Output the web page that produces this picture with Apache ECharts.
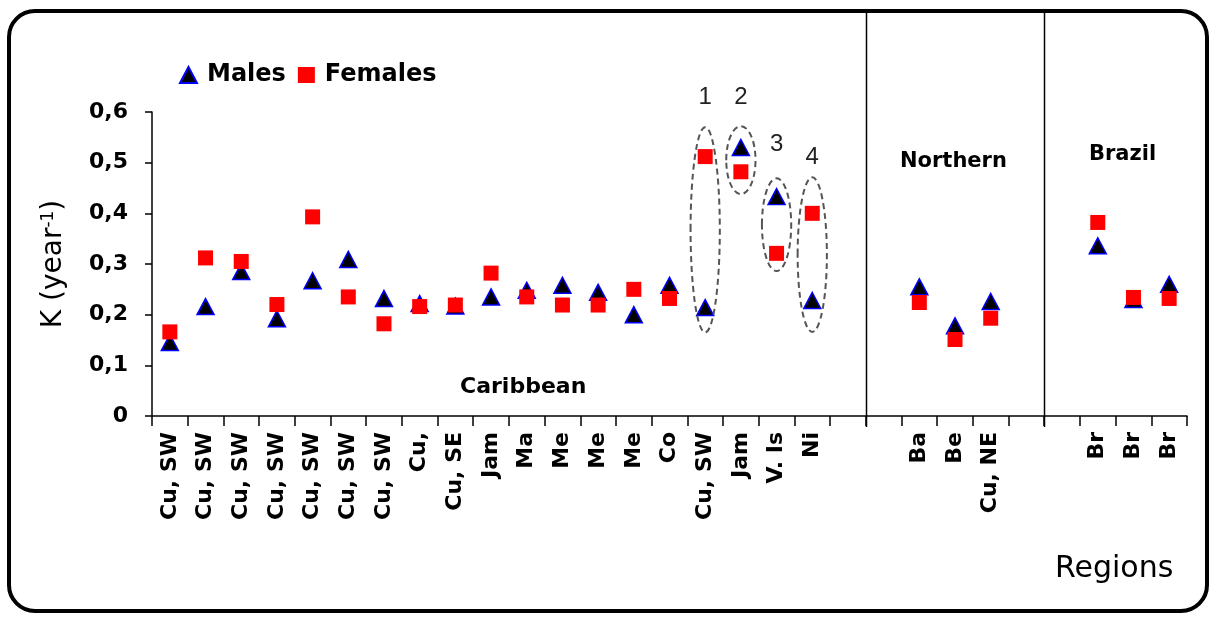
<!DOCTYPE html>
<html>
<head>
<meta charset="utf-8">
<script src="https://cdn.jsdelivr.net/npm/echarts@6/dist/echarts.min.js"></script>
<style>
html,body{margin:0;padding:0;background:#fff;}
#chart{width:1213px;height:617px;}
</style>
</head>
<body>
<div id="chart"></div>
<script>
// ---- data ----
var categories = ['Cu, SW','Cu, SW','Cu, SW','Cu, SW','Cu, SW','Cu, SW','Cu, SW','Cu,','Cu, SE','Jam','Ma','Me','Me','Me','Co','Cu, SW','Jam','V. Is','Ni','','','Ba','Be','Cu, NE','','','Br','Br','Br'];
var males   = [0.145,0.216,0.285,0.192,0.267,0.309,0.232,0.222,0.217,0.235,0.248,0.258,0.244,0.200,0.258,0.214,0.530,0.433,0.228,null,null,0.255,0.178,0.226,null,null,0.336,0.230,0.260];
var females = [0.166,0.312,0.305,0.220,0.393,0.235,0.182,0.216,0.219,0.282,0.235,0.219,0.219,0.250,0.232,0.512,0.482,0.321,0.400,null,null,0.224,0.151,0.193,null,null,0.382,0.234,0.232];
var yTicks = [0, 0.1, 0.2, 0.3, 0.4, 0.5, 0.6];
// highlighted groups (dashed ellipses)
var groupCats   = [15, 16, 17, 18];
var groupTop    = [0.570, 0.572, 0.469, 0.471];
var groupBottom = [0.165, 0.438, 0.286, 0.166];
var groupLabels = ['1', '2', '3', '4'];
var groupLabelY = [0.628, 0.628, 0.536, 0.511];
// region separators (after category index)
var separatorsAfter = [19, 24];

var chart = echarts.init(document.getElementById('chart'), null, {renderer: 'canvas'});

var ellipseData = groupCats.map(function (c, i) {
  return [c, groupTop[i], groupBottom[i], groupLabelY[i], i];
});
var sepData = separatorsAfter.map(function (c) { return [c, 0]; });

var FRAME_TOP = 11;

var option = {
  backgroundColor: '#ffffff',
  animation: false,
  grid: {left: 152, right: 26, top: 112, bottom: 201, containLabel: false},
  legend: {
    left: 174, top: 58,
    data: ['Males', 'Females'],
    itemWidth: 17, itemHeight: 16, itemGap: 12,
    textStyle: {fontFamily: 'DejaVu Sans', fontWeight: 'bold', fontSize: 24, color: '#000', padding: [0, 0, 0, 5]}
  },
  xAxis: {
    type: 'category',
    data: categories,
    boundaryGap: true,
    axisLine: {lineStyle: {color: '#000', width: 1.5}},
    axisTick: {show: true, length: 10, interval: 0, lineStyle: {color: '#000', width: 1.5}},
    axisLabel: {
      interval: 0, rotate: 90, margin: 16,
      fontFamily: 'DejaVu Sans', fontWeight: 'bold', fontSize: 22, color: '#000'
    },
    splitLine: {show: false}
  },
  yAxis: {
    type: 'value',
    min: 0, max: 0.6, interval: 0.1,
    name: '{a|K (year}{b|-1}{a|)}',
    nameLocation: 'middle',
    nameRotate: 90,
    nameGap: 84,
    nameTextStyle: {
      rich: {
        a: {fontFamily: 'DejaVu Sans', fontSize: 28, color: '#000'},
        b: {fontFamily: 'DejaVu Sans', fontSize: 17, color: '#000', verticalAlign: 'top', padding: [0, 0, 10, 0]}
      }
    },
    axisLine: {show: true, lineStyle: {color: '#000', width: 1.5}},
    axisTick: {show: true, length: 7, lineStyle: {color: '#000', width: 1.5}},
    axisLabel: {
      margin: 24,
      fontFamily: 'DejaVu Sans', fontWeight: 'bold', fontSize: 22, color: '#000',
      formatter: function (v) {
        var t = yTicks.filter(function (k) { return Math.abs(k - v) < 1e-9; });
        var val = t.length ? t[0] : v;
        return String(+val.toFixed(1)).replace('.', ',');
      }
    },
    splitLine: {show: false}
  },
  series: [
    {
      name: 'Males', type: 'scatter', data: males,
      symbol: 'triangle', symbolSize: [17, 16],
      itemStyle: {color: '#000000', borderColor: '#0000ff', borderWidth: 1.5, opacity: 1},
      z: 3
    },
    {
      name: 'Females', type: 'scatter', data: females,
      symbol: 'rect', symbolSize: 15,
      itemStyle: {color: '#ff0000', opacity: 1},
      z: 4
    },
    {
      name: 'groups', type: 'custom', data: ellipseData, z: 5, silent: true,
      encode: {x: 0, y: [1, 2]},
      renderItem: function (params, api) {
        var idx = api.value(0);
        var pTop = api.coord([idx, api.value(1)]);
        var pBot = api.coord([idx, api.value(2)]);
        var pLab = api.coord([idx, api.value(3)]);
        var bw = api.size([1, 0])[0];
        return {
          type: 'group',
          children: [
            {
              type: 'ellipse',
              shape: {cx: pTop[0], cy: (pTop[1] + pBot[1]) / 2, rx: bw * 0.41, ry: (pBot[1] - pTop[1]) / 2},
              style: {fill: 'none', stroke: '#555', lineWidth: 2, lineDash: [6, 4]}
            },
            {
              type: 'text',
              style: {
                text: groupLabels[api.value(4)], x: pLab[0], y: pLab[1],
                textAlign: 'center', textVerticalAlign: 'middle',
                fontFamily: 'Liberation Sans', fontSize: 24, fill: '#222'
              }
            }
          ]
        };
      }
    },
    {
      name: 'separators', type: 'custom', data: sepData, z: 2, silent: true,
      encode: {x: 0, y: 1},
      renderItem: function (params, api) {
        var p = api.coord([api.value(0), 0]);
        var bw = api.size([1, 0])[0];
        var x = Math.round(p[0] + bw / 2) + 0.5;
        return {
          type: 'line',
          shape: {x1: x, y1: FRAME_TOP, x2: x, y2: p[1] + 11},
          style: {stroke: '#000', lineWidth: 1.5}
        };
      }
    }
  ],
  graphic: [
    {
      type: 'rect', z: 100, silent: true,
      shape: {x: 9, y: FRAME_TOP, width: 1198, height: 600, r: 26},
      style: {fill: 'none', stroke: '#000', lineWidth: 4}
    },
    {type: 'text', left: 460, top: 376, silent: true,
     style: {text: 'Caribbean', fontFamily: 'DejaVu Sans', fontWeight: 'bold', fontSize: 22, fill: '#000'}},
    {type: 'text', left: 900, top: 151, silent: true,
     style: {text: 'Northern', fontFamily: 'DejaVu Sans', fontWeight: 'bold', fontSize: 21, fill: '#000'}},
    {type: 'text', left: 1089, top: 144, silent: true,
     style: {text: 'Brazil', fontFamily: 'DejaVu Sans', fontWeight: 'bold', fontSize: 21, fill: '#000'}},
    {type: 'text', left: 1055, top: 554, silent: true,
     style: {text: 'Regions', fontFamily: 'DejaVu Sans', fontSize: 30, fill: '#000'}}
  ]
};
chart.setOption(option);
</script>
</body>
</html>
